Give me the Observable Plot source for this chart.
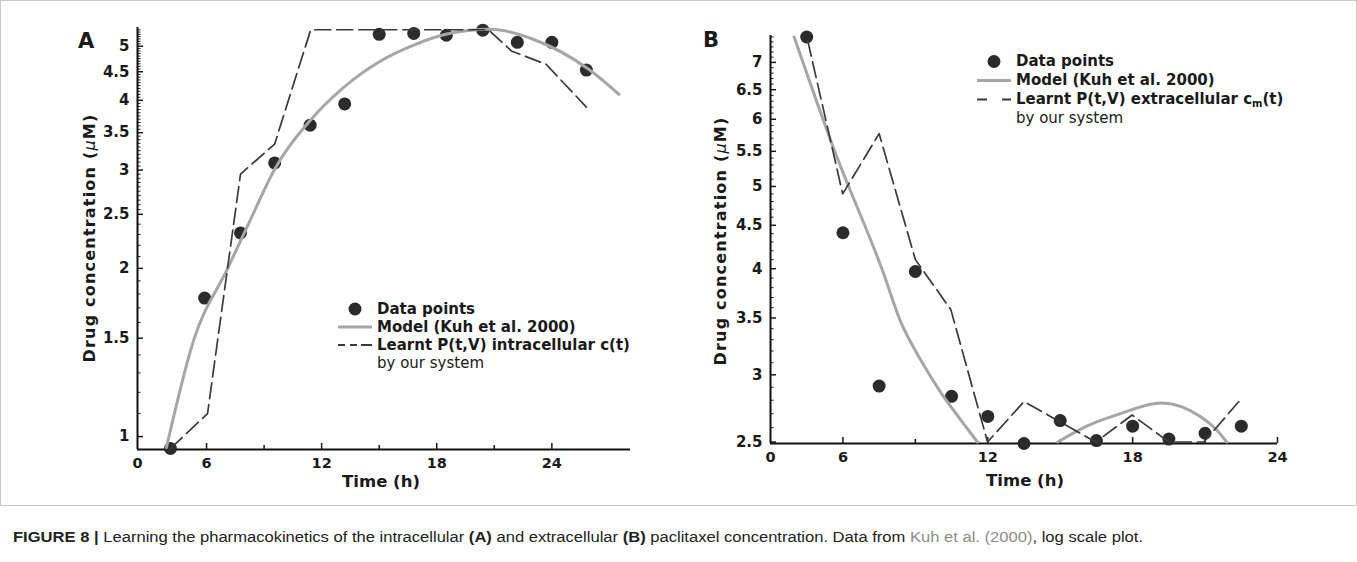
<!DOCTYPE html>
<html>
<head>
<meta charset="utf-8">
<script src="https://cdn.jsdelivr.net/npm/d3@7"></script>
<script src="https://cdn.jsdelivr.net/npm/@observablehq/plot@0.6"></script>
<style>
  html, body { margin: 0; padding: 0; background: #fff; }
  #fig { position: relative; width: 1357px; height: 562px; overflow: hidden; font-family: "DejaVu Sans", sans-serif; color: #1a1a1a; }
  #box { position: absolute; left: 0; top: 0; width: 1355px; height: 504px; border: 1px solid #c9c9c9; }
  .panel { position: absolute; top: 0; }
  .t { position: absolute; white-space: nowrap; }
  .letter { font-weight: bold; font-size: 21px; line-height: 21px; }
  .xtitle { font-weight: bold; font-size: 16.5px; transform: translate(-50%, -50%); }
  .ytitle { font-weight: bold; font-size: 16px; letter-spacing: 1.2px; transform: translate(-50%, -50%) rotate(-90deg); }
  .ytitle i { font-weight: normal; font-style: italic; }
  .legend { position: absolute; }
  .row { position: relative; height: 18px; line-height: 18px; font-size: 15px; white-space: nowrap; }
  .row svg { position: absolute; left: 0; top: 0; }
  .row span { position: absolute; font-weight: bold; }
  .row span.reg { font-weight: normal; }
  .row sub { font-size: 10px; vertical-align: -3px; line-height: 0; }
  #caption { position: absolute; left: 13px; top: 528px; font-family: "Liberation Sans Narrow", "Liberation Sans", Arial, sans-serif; font-size: 15.5px; line-height: 18px; white-space: nowrap; color: #222; transform-origin: 0 0; }
  #caption b { font-weight: bold; }
  #caption .link { color: #8c8c8c; }
</style>
</head>
<body>
<div id="fig">
  <div id="box"></div>
</div>
<script>
// ---------- Panel A (intracellular) ----------
const xTickPosA = [2.4, 6, 12, 18, 24];
const xTickLabelsA = ["0", "6", "12", "18", "24"];
const xDomainA = [2.4, 28.1];
const yDomainA = [0.948, 5.40];
const yTicksA = [1, 1.5, 2, 2.5, 3, 3.5, 4, 4.5, 5];

const hoursA = [4.12, 5.9, 7.77, 9.55, 11.4, 13.2, 15.0, 16.8, 18.5, 20.4, 22.2, 24.0, 25.8];
const concA = [0.952, 1.77, 2.315, 3.09, 3.61, 3.94, 5.25, 5.27, 5.23, 5.34, 5.08, 5.08, 4.53];

const modelHoursA = [3.91, 5.32, 7.10, 8.30, 9.55, 11.43, 13.15, 14.97, 16.8, 18.47, 20.8, 23.06, 25.9, 27.5];
const modelConcA = [0.956, 1.485, 2.0, 2.45, 3.01, 3.69, 4.22, 4.68, 5.02, 5.25, 5.36, 5.14, 4.55, 4.10];

const learntHoursA = [4.12, 6.05, 7.77, 9.55, 11.43, 20.7, 21.9, 23.7, 25.8];
const learntConcA = [0.952, 1.099, 2.95, 3.34, 5.35, 5.35, 4.90, 4.64, 3.89];

// ---------- Panel B (extracellular) ----------
const xTickPosB = [3.0, 6, 12, 18, 24];
const xTickLabelsB = ["0", "6", "12", "18", "24"];
const xDomainB = [3.0, 24];
const yDomainB = [2.49, 7.53];
const yTicksB = [2.5, 3, 3.5, 4, 4.5, 5, 5.5, 6, 6.5, 7];

const hoursB = [4.5, 6, 7.5, 9, 10.5, 12, 13.5, 15, 16.5, 18, 19.5, 21, 22.5];
const concB = [7.50, 4.41, 2.91, 3.97, 2.83, 2.68, 2.49, 2.65, 2.51, 2.61, 2.52, 2.56, 2.61];

const modelHoursB1 = [3.98, 5.64, 7.64, 8.4, 9.23, 10.05, 10.9, 11.57];
const modelConcB1 = [7.50, 5.52, 3.98, 3.46, 3.12, 2.86, 2.65, 2.50];
const modelHoursB2 = [14.9, 16.1, 17.5, 19.16, 20.8, 21.5, 21.9];
const modelConcB2 = [2.50, 2.61, 2.70, 2.78, 2.68, 2.58, 2.50];

const learntHoursB = [4.54, 5.99, 7.5, 9.0, 10.47, 11.99, 13.5, 16.47, 17.98, 19.5, 20.95, 22.4];
const learntConcB = [7.43, 4.90, 5.77, 4.10, 3.58, 2.50, 2.79, 2.50, 2.69, 2.50, 2.50, 2.79];

const xMajor = [6, 12, 18, 24];
const xMinor = [9, 15, 21];

// ---------- helpers ----------
const zip = (hs, vs, seg = 0) => hs.map((h, i) => ({h, v: vs[i], seg}));
const near = (a, list) => list.some(b => Math.abs(a - b) < 1e-6);

function minorTicks(lo, hi, step, majors) {
  return d3.range(Math.round(lo / step), Math.round(hi / step) + 1)
    .map(k => +(k * step).toFixed(3))
    .filter(v => !near(v, majors));
}

function panel(o) {
  return Plot.plot({
    width: o.width, height: 500,
    marginLeft: o.marginLeft, marginRight: o.marginRight,
    marginTop: o.marginTop, marginBottom: o.marginBottom,
    x: {domain: o.xDomain},
    y: {type: "log", domain: o.yDomain},
    style: {fontFamily: "'DejaVu Sans', sans-serif", fontSize: "14px", fontWeight: "bold",
            color: "#1a1a1a", background: "transparent", overflow: "visible"},
    marks: [
      Plot.axisX({ticks: o.xTickPos, tickSize: 0, tickPadding: 8, fontSize: 14.5,
                  tickFormat: d => o.xTickLabels[o.xTickPos.indexOf(d)], label: null}),
      Plot.axisX({ticks: xMajor, tickSize: 6, dy: -6, text: null, label: null, strokeWidth: 1.5}),
      Plot.axisX({ticks: xMinor, tickSize: 4, dy: -4, text: null, label: null, strokeWidth: 1.5}),
      Plot.axisY({ticks: o.yTicks, tickSize: 0, tickPadding: 8, fontSize: 15, tickFormat: d => String(d), label: null}),
      Plot.axisY({ticks: o.yTicks, tickSize: 6, dx: 6, text: null, label: null, strokeWidth: 1.5}),
      Plot.axisY({ticks: o.yMinor, tickSize: 3.5, dx: 3.5, text: null, label: null}),
      Plot.ruleX([o.xDomain[0]], {stroke: "#111", strokeWidth: 2}),
      Plot.ruleY([o.yDomain[0]], {stroke: "#111", strokeWidth: 2}),
      Plot.dot(o.dots, {x: "h", y: "v", r: 6.5, fill: "#2b2b2b", stroke: "none"}),
      Plot.line(o.model, {x: "h", y: "v", z: "seg", curve: "monotone-x", stroke: "#a6a6a6", strokeWidth: 3}),
      Plot.line(o.learnt, {x: "h", y: "v", stroke: "#3a3a3a", strokeWidth: 1.7, strokeDasharray: "16,6"})
    ]
  });
}

const fig = document.getElementById("fig");

const yMinorA = [...minorTicks(1.0, 2.5, 0.1, yTicksA), ...minorTicks(2.5, 5.35, 0.05, yTicksA)];
const yMinorB = minorTicks(2.5, 7.5, 0.1, yTicksB);

const svgA = panel({
  width: 680, marginLeft: 137, marginRight: 50, marginTop: 27, marginBottom: 51,
  xDomain: xDomainA, yDomain: yDomainA, xTickPos: xTickPosA, xTickLabels: xTickLabelsA,
  yTicks: yTicksA, yMinor: yMinorA,
  dots: zip(hoursA, concA), model: zip(modelHoursA, modelConcA), learnt: zip(learntHoursA, learntConcA)
});
svgA.classList.add("panel"); svgA.style.left = "0px";
fig.appendChild(svgA);

const svgB = panel({
  width: 677, marginLeft: 90, marginRight: 80, marginTop: 35, marginBottom: 57,
  xDomain: xDomainB, yDomain: yDomainB, xTickPos: xTickPosB, xTickLabels: xTickLabelsB,
  yTicks: yTicksB, yMinor: yMinorB,
  dots: zip(hoursB, concB),
  model: [...zip(modelHoursB1, modelConcB1, 1), ...zip(modelHoursB2, modelConcB2, 2)],
  learnt: zip(learntHoursB, learntConcB)
});
svgB.classList.add("panel"); svgB.style.left = "680px";
fig.appendChild(svgB);

// ---------- text ----------
function addText(cls, html, left, top) {
  const d = document.createElement("div");
  d.className = "t " + cls;
  d.innerHTML = html;
  d.style.left = left + "px";
  d.style.top = top + "px";
  fig.appendChild(d);
  return d;
}
addText("letter", "A", 78, 31);
addText("letter", "B", 703, 30);
addText("xtitle", "Time (h)", 381, 481);
addText("xtitle", "Time (h)", 1025, 480);
addText("ytitle", "Drug concentration (<i>μ</i>M)", 89, 238);
addText("ytitle", "Drug concentration (<i>μ</i>M)", 720, 241);

function legend(left, top, rowH, dash, entries) {
  const L = document.createElement("div");
  L.className = "legend";
  L.style.left = left + "px";
  L.style.top = top + "px";
  entries.forEach((e, i) => {
    const r = document.createElement("div");
    r.className = "row";
    r.style.height = rowH + "px";
    r.style.lineHeight = rowH + "px";
    const c = rowH / 2;
    let sw = "";
    if (e.kind === "dot") sw = `<circle cx="17" cy="${c}" r="6.5" fill="#2b2b2b"/>`;
    if (e.kind === "model") sw = `<line x1="0" x2="34" y1="${c}" y2="${c}" stroke="#a6a6a6" stroke-width="3"/>`;
    if (e.kind === "learnt") sw = `<line x1="0" x2="34" y1="${c}" y2="${c}" stroke="#3a3a3a" stroke-width="1.8" stroke-dasharray="${dash}"/>`;
    r.innerHTML = `<svg width="36" height="${rowH}">${sw}</svg><span class="${e.reg ? "reg" : ""}" style="left:39px">${e.text}</span>`;
    L.appendChild(r);
  });
  fig.appendChild(L);
}
legend(338, 300, 18, "7,5,7,4,11", [
  {kind: "dot", text: "Data points"},
  {kind: "model", text: "Model (Kuh et al. 2000)"},
  {kind: "learnt", text: "Learnt P(t,V) intracellular c(t)"},
  {kind: "none", text: "by our system", reg: true}
]);
legend(977, 52, 19, "10,15,10", [
  {kind: "dot", text: "Data points"},
  {kind: "model", text: "Model (Kuh et al. 2000)"},
  {kind: "learnt", text: "Learnt P(t,V) extracellular c<sub>m</sub>(t)"},
  {kind: "none", text: "by our system", reg: true}
]);

// ---------- caption ----------
const cap = document.createElement("div");
cap.id = "caption";
cap.innerHTML = '<b>FIGURE 8 |</b> Learning the pharmacokinetics of the intracellular <b>(A)</b> and extracellular <b>(B)</b> paclitaxel concentration. Data from <span class="link">Kuh et al. (2000)</span>, log scale plot.';
fig.appendChild(cap);
const w = cap.getBoundingClientRect().width;
cap.style.transform = `scaleX(${1130 / w})`;
</script>
</body>
</html>
